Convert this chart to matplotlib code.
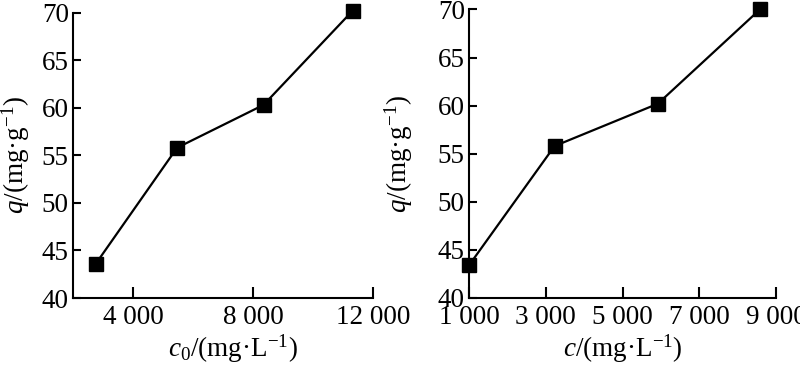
import matplotlib
matplotlib.use("Agg")
import matplotlib.pyplot as plt

plt.rcParams['font.family'] = ['Liberation Serif', 'DejaVu Serif']
plt.rcParams['mathtext.fontset'] = 'custom'
plt.rcParams['mathtext.rm'] = 'Liberation Serif'
plt.rcParams['mathtext.it'] = 'Liberation Serif:italic'

# Left panel data
c0 = [2760, 5470, 8350, 11320]
q_left = [43.6, 55.8, 60.3, 70.2]
left_xticks = [4000, 8000, 12000]
left_xticklabels = ['4 000', '8 000', '12 000']

# Right panel data
c = [1000, 3230, 5920, 8580]
q_right = [43.4, 55.8, 60.2, 70.0]
right_xticks = [1000, 3000, 5000, 7000, 9000]
right_xticklabels = ['1 000', '3 000', '5 000', '7 000', '9 000']

yticks = [40, 45, 50, 55, 60, 65, 70]

FS = 19.5

fig = plt.figure(figsize=(8, 3.69), dpi=100)
ax1 = fig.add_axes([73/800, 1-298/369, (373-73)/800, (298-12.7)/369])
ax2 = fig.add_axes([469/800, 1-298/369, (776-469)/800, (298-9.5)/369])

def style(ax):
    for s in ['top', 'right']:
        ax.spines[s].set_visible(False)
    for s in ['left', 'bottom']:
        ax.spines[s].set_linewidth(1.5)
    ax.tick_params(direction='in', width=1.5, labelsize=FS)
    ax.tick_params(axis='x', length=8, pad=5)
    ax.tick_params(axis='y', length=6, pad=3)
    ax.set_ylim(40, 70)
    ax.set_yticks(yticks)

ax1.plot(c0, q_left, color='black', lw=1.6, marker='s', ms=9.5, clip_on=False)
style(ax1)
ax1.set_xlim(2000, 12000)
ax1.set_xticks(left_xticks)
ax1.set_xticklabels(left_xticklabels)
ax1.set_xlabel(r'$\mathit{c}_0$/(mg·L$^{-1}$)', fontsize=FS)
ax1.set_ylabel(r'$\mathit{q}$/(mg·g$^{-1}$)', fontsize=FS)
ax1.xaxis.set_label_coords(0.533, -0.12)
ax1.yaxis.set_label_coords(-0.135, 0.5)

ax2.plot(c, q_right, color='black', lw=1.6, marker='s', ms=9.5, clip_on=False)
style(ax2)
ax2.set_xlim(1000, 9000)
ax2.set_xticks(right_xticks)
ax2.set_xticklabels(right_xticklabels)
ax2.set_xlabel(r'$\mathit{c}$/(mg·L$^{-1}$)', fontsize=FS)
ax2.set_ylabel(r'$\mathit{q}$/(mg·g$^{-1}$)', fontsize=FS)
ax2.xaxis.set_label_coords(0.5, -0.12)
ax2.yaxis.set_label_coords(-0.176, 0.5)

fig.savefig('out.png', dpi=100)
